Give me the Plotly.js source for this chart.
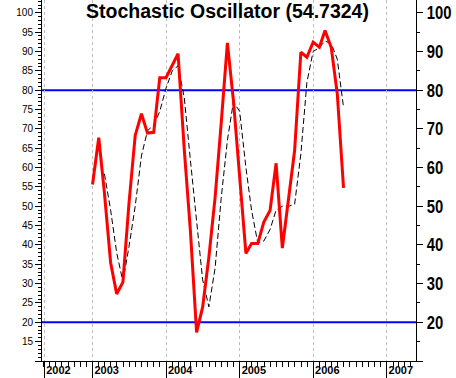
<!DOCTYPE html>
<html>
<head>
<meta charset="utf-8">
<script src="https://cdn.plot.ly/plotly-3.0.1.min.js"></script>
<style>html,body{margin:0;padding:0;background:#fff;}#chart{width:456px;height:378px;}</style>
</head>
<body>
<div id="chart"></div>
<script>
// %K (red) monthly values
const kDates = ['2002-12-31','2003-01-31','2003-02-28','2003-03-31','2003-04-30','2003-05-31','2003-06-30','2003-07-31','2003-08-31','2003-09-30','2003-10-31','2003-11-30','2003-12-31',
  '2004-01-31','2004-02-29','2004-03-31','2004-04-30','2004-05-31','2004-06-30','2004-07-31','2004-08-31','2004-09-30','2004-10-31','2004-11-30','2004-12-31',
  '2005-01-31','2005-02-28','2005-03-31','2005-04-30','2005-05-31','2005-06-30','2005-07-31','2005-08-31','2005-09-30','2005-10-31','2005-11-30','2005-12-31',
  '2006-01-31','2006-02-28','2006-03-31','2006-04-30','2006-05-31'];
const kValues = [55.6,67.7,53.5,35.4,27.3,30.4,50.7,68.3,73.9,68.9,69.1,83.2,83.2,
  86.4,89.4,64.5,43.8,17.4,23.9,36.8,52.3,71.3,92.2,77.3,56.7,
  37.8,40.4,40.4,45.9,48.9,61.1,39.2,52.0,64.4,89.8,88.5,92.4,
  91.1,95.4,91.0,79.0,54.7324];
// %D (black dashed) monthly values
const dDates = ['2003-02-28','2003-03-31','2003-04-30','2003-05-31','2003-06-30','2003-07-31','2003-08-31','2003-09-30','2003-10-31','2003-11-30','2003-12-31',
  '2004-01-31','2004-02-29','2004-03-31','2004-04-30','2004-05-31','2004-06-30','2004-07-31','2004-08-31','2004-09-30','2004-10-31','2004-11-30','2004-12-31',
  '2005-01-31','2005-02-28','2005-03-31','2005-04-30','2005-05-31','2005-06-30','2005-07-31','2005-08-31','2005-09-30','2005-10-31','2005-11-30','2005-12-31',
  '2006-01-31','2006-02-28','2006-03-31','2006-04-30','2006-05-31'];
const dValues = [58.4,49,38,30.5,39.5,50,63,69.5,71,74.5,80.5,
  85,86.3,78,62,46,31,24,34,52,67,77,74.5,
  60,49,40.5,41,44,49,50,50,50.5,63.5,82,90,
  91,92.7,92,88,75.6];
// reference levels
const levels = [20, 80];
// axis ticks
const xTickVals = ['2002-05-06','2003-01-01','2004-01-01','2005-01-01','2006-01-01','2007-01-01'];
const xTickText = ['2002','2003','2004','2005','2006','2007'];
const leftTickVals = [10,15,20,25,30,35,40,45,50,55,60,65,70,75,80,85,90,95,100];
const leftTickText = ['','15','20','25','30','35','40','45','50','55','60','65','70','75','80','85','90','95','100'];
const rightTickVals = [10,20,30,40,50,60,70,80,90,100];
const rightTickText = ['','20','30','40','50','60','70','80','90','100'];
const titleText = 'Stochastic Oscillator (54.7324)';

const yRange = [10, 103.3];

const traces = [
  {x: dDates, y: dValues, type: 'scatter', mode: 'lines', yaxis: 'y',
   line: {color: '#000000', width: 1, dash: '6px,3px'}, hoverinfo: 'skip'},
  {x: kDates, y: kValues, type: 'scatter', mode: 'lines', yaxis: 'y2',
   line: {color: '#ff0000', width: 3}, hoverinfo: 'skip'}
];

const shapes = levels.map(v => ({type: 'line', xref: 'paper', x0: 0, x1: 1, yref: 'y', y0: v, y1: v,
  line: {color: '#0000ff', width: 2}, layer: 'below'}));

const layout = {
  width: 456, height: 378,
  margin: {l: 42, r: 40, t: 0, b: 17, pad: 0},
  paper_bgcolor: '#ffffff', plot_bgcolor: '#ffffff',
  showlegend: false,
  title: {text: titleText, x: 227.5/456, xanchor: 'center', xref: 'container',
          y: 1 - 4.5/378, yanchor: 'top', yref: 'container',
          font: {family: 'Liberation Sans, Arial, sans-serif', size: 19.5, color: '#000', weight: 'bold'}},
  xaxis: {type: 'date', range: ['2002-04-24', '2007-05-26'],
    tickmode: 'array', tickvals: xTickVals, ticktext: xTickText,
    ticks: 'outside', ticklen: 16, tickwidth: 1, tickcolor: '#000',
    showline: true, linecolor: '#000', linewidth: 1, mirror: false,
    showgrid: true, gridcolor: '#bdbdbd', griddash: '3px,3px', gridwidth: 1, zeroline: false,
    tickfont: {family: 'Liberation Sans, Arial, sans-serif', size: 11, color: '#000', weight: 'bold'},
    ticklabelstandoff: -17, ticklabelshift: 14,
    minor: {dtick: 'M1', tick0: '2003-01-01', ticks: 'outside', ticklen: 5, tickcolor: '#000', tickwidth: 1, showgrid: false}
  },
  yaxis: {range: yRange, tickmode: 'array', tickvals: leftTickVals, ticktext: leftTickText,
    ticks: 'outside', ticklen: 6, tickwidth: 1, tickcolor: '#000',
    showline: true, linecolor: '#000', linewidth: 1, showgrid: false, zeroline: false,
    tickfont: {family: 'Liberation Sans, Arial, sans-serif', size: 10, color: '#000'},
    minor: {dtick: 1, tick0: 0, ticks: 'outside', ticklen: 3, tickcolor: '#000', tickwidth: 1, showgrid: false}
  },
  yaxis2: {range: yRange, overlaying: 'y', side: 'right', tickmode: 'array', tickvals: rightTickVals, ticktext: rightTickText,
    ticks: 'outside', ticklen: 6, tickwidth: 1, tickcolor: '#000',
    showline: true, linecolor: '#000', linewidth: 1, showgrid: false, zeroline: false,
    tickfont: {family: 'Liberation Sans, Arial, sans-serif', size: 18.5, color: '#000', weight: 'bold'},
    minor: {dtick: 5, tick0: 0, ticks: 'outside', ticklen: 3, tickcolor: '#000', tickwidth: 1, showgrid: false}
  },
  shapes: shapes
};

Plotly.newPlot('chart', traces, layout, {staticPlot: true, displayModeBar: false}).then(gd => {
  // condense the right-axis labels horizontally (narrow bold face in the reference)
  gd.querySelectorAll('.y2tick text').forEach(t => {
    const x = parseFloat(t.getAttribute('x')) || 0;
    const prev = t.getAttribute('transform') || '';
    t.setAttribute('transform', prev + ' translate(' + x + ',0) scale(0.8,1) translate(' + (-x) + ',0)');
  });
});
</script>
</body>
</html>
